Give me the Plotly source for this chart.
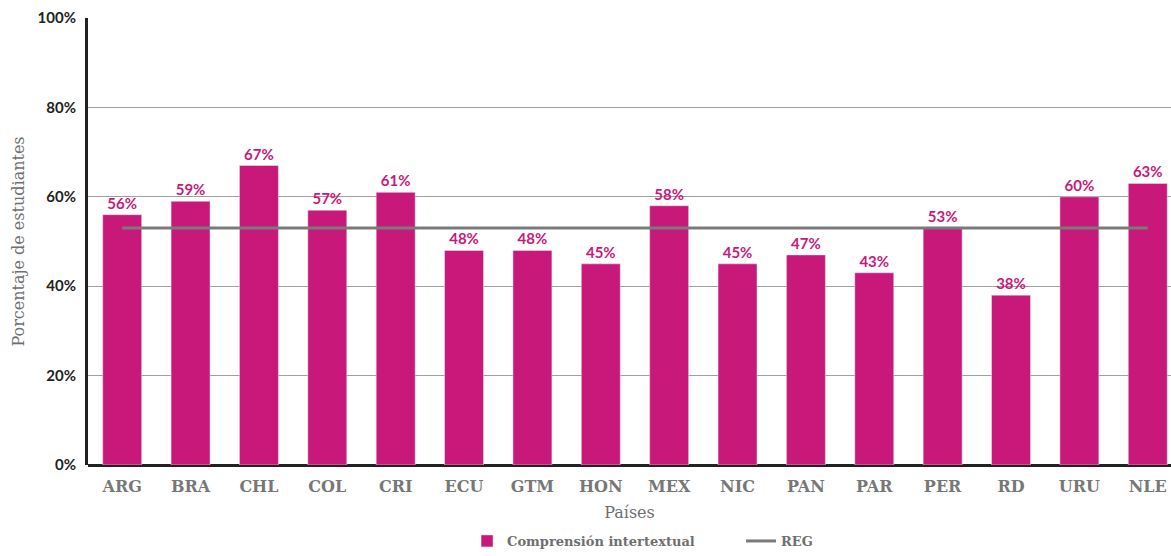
import plotly.graph_objects as go

countries = ["ARG", "BRA", "CHL", "COL", "CRI", "ECU", "GTM", "HON", "MEX", "NIC", "PAN", "PAR", "PER", "RD", "URU", "NLE"]
values = [56, 59, 67, 57, 61, 48, 48, 45, 58, 45, 47, 43, 53, 38, 60, 63]
reg_value = 53
y_ticks = [0, 20, 40, 60, 80, 100]
y_tick_labels = ["0%", "20%", "40%", "60%", "80%", "100%"]

bar_color = "#C8197B"
grey = "#6f6f6f"

fig = go.Figure()
fig.add_trace(go.Bar(
    x=list(range(len(countries))), y=values, name="Comprensión intertextual",
    marker_color=bar_color, width=0.57,
    text=[f"{v}%" for v in values], textposition="outside",
    textfont=dict(family="Lato", size=15, color=bar_color, weight="bold"),
    cliponaxis=False,
))
fig.add_trace(go.Scatter(
    x=[0, len(countries) - 1], y=[reg_value, reg_value], mode="lines", name="REG",
    line=dict(color="#7a7a7a", width=3),
))

fig.update_layout(
    width=1171, height=556,
    margin=dict(l=88, r=0, t=18, b=88),
    plot_bgcolor="white", paper_bgcolor="white",
    showlegend=True,
    legend=dict(orientation="h", x=0.35, xanchor="left", y=-0.171, yanchor="middle",
                font=dict(family="DejaVu Serif", size=13, color=grey, weight="bold"),
                entrywidth=229, traceorder="normal"),
    xaxis=dict(
        tickmode="array", tickvals=list(range(len(countries))), ticktext=countries,
        range=[-0.5, 15.34],
        tickfont=dict(family="DejaVu Serif", size=16, color="#777777", weight="bold"),
        title=dict(text="Países", font=dict(family="DejaVu Serif", size=16, color=grey), standoff=11),
        showline=False, showgrid=False, ticks="", ticklabelstandoff=10,
    ),
    yaxis=dict(
        range=[0, 100], tickvals=y_ticks, ticktext=y_tick_labels,
        tickfont=dict(family="Lato", size=15, color="#222222", weight="bold"),
        title=dict(text="Porcentaje de estudiantes", font=dict(family="DejaVu Serif", size=16, color=grey), standoff=9),
        showgrid=True, gridcolor="#a0a0a0", gridwidth=1,
        showline=True, linecolor="#222222", linewidth=3,
        zeroline=True, zerolinecolor="#222222", zerolinewidth=3,
        ticks="", ticklabelstandoff=6,
    ),
)

fig.write_html("out.html", config={"displayModeBar": False},
               post_script="document.body.style.margin='0';document.body.style.overflow='hidden';")
